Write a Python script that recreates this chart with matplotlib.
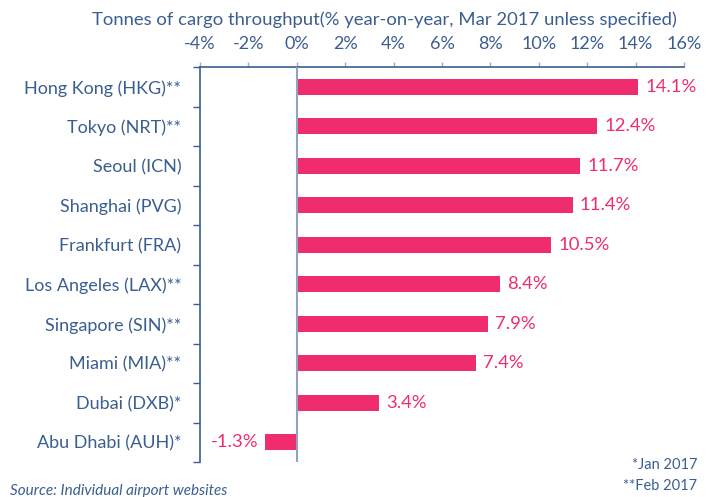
import matplotlib
matplotlib.use("Agg")
import matplotlib.pyplot as plt
from matplotlib.ticker import FuncFormatter

categories = ["Hong Kong (HKG)**", "Tokyo (NRT)**", "Seoul (ICN)", "Shanghai (PVG)",
              "Frankfurt (FRA)", "Los Angeles (LAX)**", "Singapore (SIN)**",
              "Miami (MIA)**", "Dubai (DXB)*", "Abu Dhabi (AUH)*"]
values = [14.1, 12.4, 11.7, 11.4, 10.5, 8.4, 7.9, 7.4, 3.4, -1.3]
xticks = [-4, -2, 0, 2, 4, 6, 8, 10, 12, 14, 16]

TEXT = "#3B5E91"
BAR = "#EF2D6E"
plt.rcParams['font.family'] = ['Lato', 'DejaVu Sans']

W, H = 710, 497
fig = plt.figure(figsize=(W/100, H/100), dpi=100)
ax = fig.add_axes([200/W, 1-462/H, (684-200)/W, (462-67)/H])

n = len(categories)
ys = list(range(n))
ax.barh(ys, values, height=0.4, color=BAR, zorder=3)
ax.set_ylim(n-0.5, -0.5)
ax.set_xlim(-4, 16)

ax.xaxis.tick_top()
ax.set_xticks(xticks)
ax.xaxis.set_major_formatter(FuncFormatter(lambda v, p: f"{v:.0f}%"))
ax.tick_params(axis='x', colors=TEXT, labelsize=13, length=3.6, width=1, direction='out', pad=7.5)
ax.tick_params(axis='x', which='major', color="#9AAECB")

ax.set_yticks(ys)
ax.set_yticklabels(categories)
ax.set_yticks([i + 0.5 for i in range(-1, n)], minor=True)
ax.tick_params(axis='y', which='major', length=0, labelsize=13, colors=TEXT, pad=13.5)
ax.tick_params(axis='y', which='minor', length=5, width=1, color="#3B5E91")

for s in ['right', 'bottom']:
    ax.spines[s].set_visible(False)
for s in ['top', 'left']:
    ax.spines[s].set_color("#3B5E91")
    ax.spines[s].set_linewidth(1.2)

ax.axvline(0, color="#8FA3C2", lw=1.5, zorder=4)

for y, v in zip(ys, values):
    if v >= 0:
        ax.text(v + 0.3, y, f"{v:.1f}%", va='center', ha='left', color=BAR, fontsize=13.3)
    else:
        ax.text(v - 0.3, y, f"{v:.1f}%", va='center', ha='right', color=BAR, fontsize=13.3)

fig.text(677/W, 1-20/H, "Tonnes of cargo throughput(% year-on-year, Mar 2017 unless specified)",
         ha='right', va='center', color=TEXT, fontsize=13.3)
fig.text(697/W, 1-465/H, "*Jan 2017", ha='right', va='center', color=TEXT, fontsize=10.5)
fig.text(697/W, 1-486/H, "**Feb 2017", ha='right', va='center', color=TEXT, fontsize=10.5)
fig.text(10/W, 1-491/H, "Source: Individual airport websites", ha='left', va='center',
         color=TEXT, fontsize=11, style='italic')

fig.savefig("out.png", dpi=100)
